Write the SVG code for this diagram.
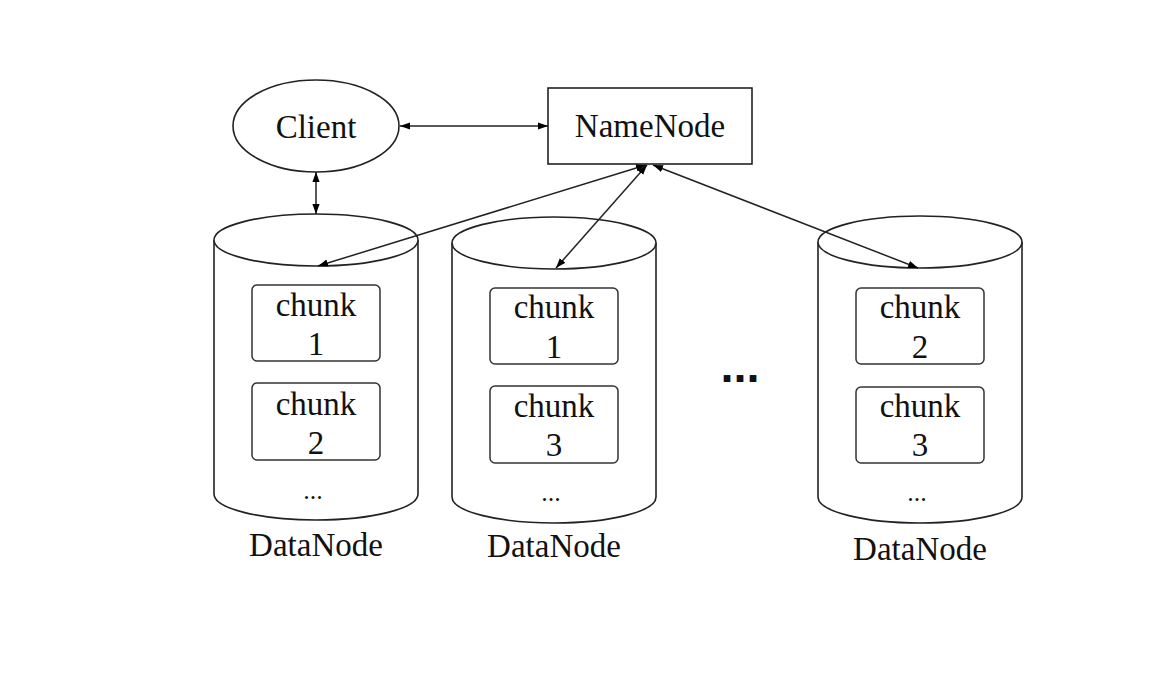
<svg xmlns="http://www.w3.org/2000/svg" width="1174" height="679" viewBox="0 0 1174 679">
<style>
.s{fill:#fff;stroke:#222;stroke-width:1.6}
.c{fill:#fff;stroke:#333;stroke-width:1.5}
.t{font-family:"Liberation Serif","Times New Roman",serif;font-size:33px;fill:#111;text-anchor:middle}
.k{font-family:"Liberation Serif","Times New Roman",serif;font-size:33px;fill:#111;text-anchor:middle}
.d{font-family:"Liberation Serif","Times New Roman",serif;font-size:26px;fill:#111;text-anchor:middle}
.e{stroke:#222;stroke-width:1.5;fill:none;marker-start:url(#a);marker-end:url(#a)}
</style>
<defs>
<marker id="a" viewBox="0 0 10 10" refX="10" refY="5" markerWidth="10" markerHeight="8" markerUnits="userSpaceOnUse" orient="auto-start-reverse" preserveAspectRatio="none">
<path d="M0,0.5 L10,5 L0,9.5 z" fill="#000"/>
</marker>
</defs>
<rect width="1174" height="679" fill="#fff"/>
<g id="client">
<ellipse class="s" cx="316" cy="126" rx="83" ry="46"/>
<text class="t" x="316" y="138">Client</text>
</g>
<g id="namenode">
<rect class="s" x="548" y="88" width="204" height="76"/>
<text class="t" x="650" y="137">NameNode</text>
</g>
<g id="datanode1">
<path class="s" d="M214,240 V494 A102,26 0 0 0 418,494 V240"/>
<ellipse class="s" cx="316" cy="240" rx="102" ry="26"/>
<rect class="c" x="252" y="285" width="128" height="76" rx="5"/>
<text class="k" x="316" y="316">chunk</text>
<text class="k" x="316" y="355">1</text>
<rect class="c" x="252" y="383" width="128" height="77" rx="5"/>
<text class="k" x="316" y="415">chunk</text>
<text class="k" x="316" y="454">2</text>
<text class="d" x="313" y="499">...</text>
<text class="t" x="316" y="556">DataNode</text>
</g>
<g id="datanode2">
<path class="s" d="M452,243 V497 A102,26 0 0 0 656,497 V243"/>
<ellipse class="s" cx="554" cy="243" rx="102" ry="26"/>
<rect class="c" x="490" y="288" width="128" height="76" rx="5"/>
<text class="k" x="554" y="318">chunk</text>
<text class="k" x="554" y="358">1</text>
<rect class="c" x="490" y="386" width="128" height="77" rx="5"/>
<text class="k" x="554" y="417">chunk</text>
<text class="k" x="554" y="456">3</text>
<text class="d" x="551" y="501">...</text>
<text class="t" x="554" y="557">DataNode</text>
</g>
<g id="ellipsis">
<text x="740" y="382" style="font-family:'Liberation Sans',Arial,sans-serif;font-size:47px;font-weight:bold;text-anchor:middle;fill:#111">...</text>
</g>
<g id="datanode3">
<path class="s" d="M818,242 V497 A102,26 0 0 0 1022,497 V242"/>
<ellipse class="s" cx="920" cy="242" rx="102" ry="26"/>
<rect class="c" x="856" y="288" width="128" height="76" rx="5"/>
<text class="k" x="920" y="318">chunk</text>
<text class="k" x="920" y="358">2</text>
<rect class="c" x="856" y="387" width="128" height="76" rx="5"/>
<text class="k" x="920" y="417">chunk</text>
<text class="k" x="920" y="456">3</text>
<text class="d" x="917" y="501">...</text>
<text class="t" x="920" y="560">DataNode</text>
</g>
<g id="connectors">
<line class="e" x1="400" y1="126" x2="548" y2="126"/>
<line class="e" x1="316" y1="172" x2="316" y2="214"/>
<line class="e" x1="646" y1="165" x2="318" y2="266"/>
<line class="e" x1="647" y1="165" x2="556" y2="268"/>
<line class="e" x1="653" y1="165" x2="918" y2="268"/>
</g>
</svg>
